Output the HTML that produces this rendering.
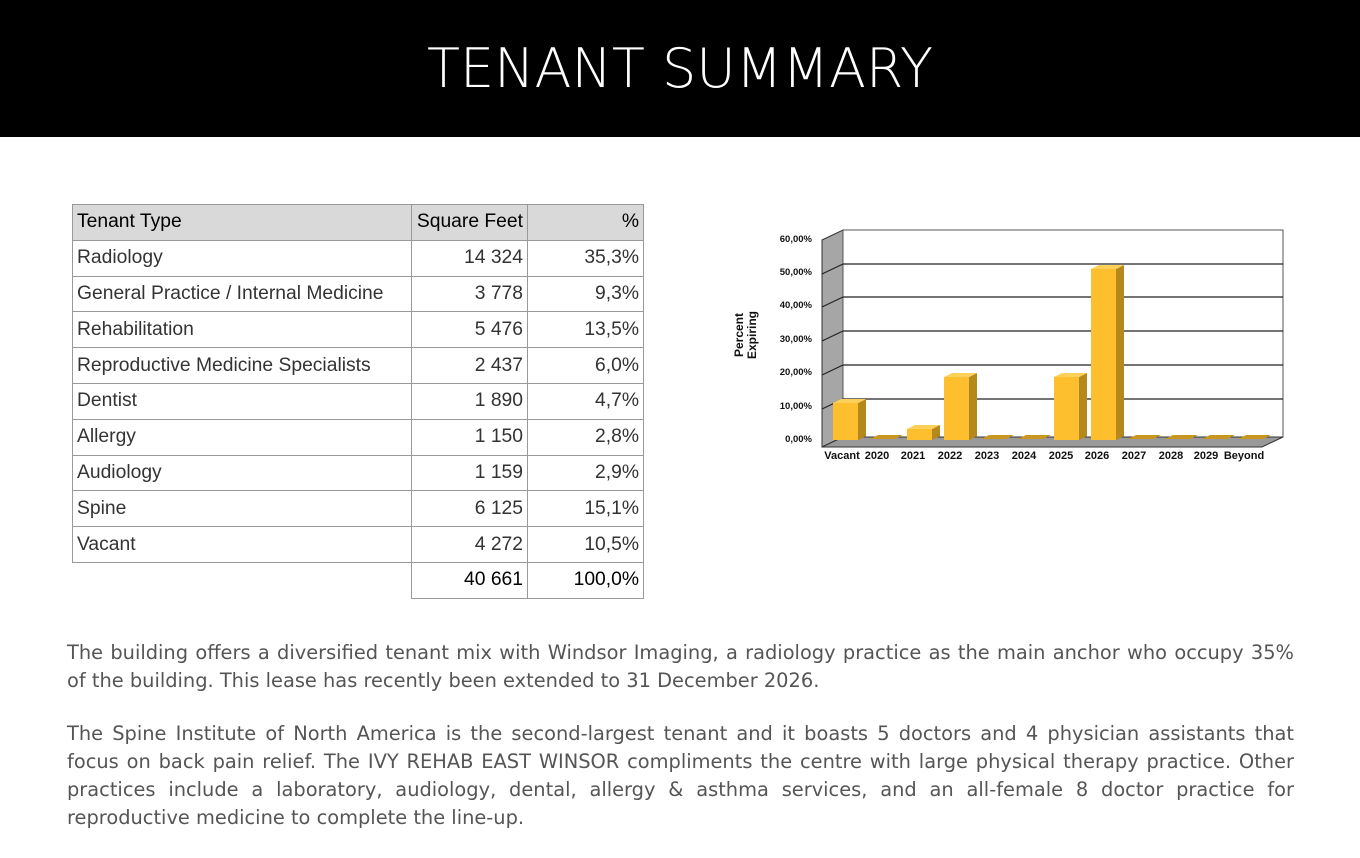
<!DOCTYPE html>
<html><head><meta charset="utf-8"><style>
body{margin:0;width:1360px;height:858px;background:#fff;position:relative;overflow:hidden;font-family:"Liberation Sans",sans-serif}
.hdr{position:absolute;left:0;top:0;width:1360px;height:137px;background:#000;color:#fff;font-size:54px;text-align:center;line-height:137px;letter-spacing:0px;font-family:"DejaVu Sans","Liberation Sans",sans-serif;font-weight:300}
table{position:absolute;left:72px;top:204px;border-collapse:collapse;font-size:19.3px;color:#333}
td{border:1px solid #999;height:35.8px;padding:0 4px;box-sizing:border-box}
tr.h td{background:#d9d9d9;color:#000}
.r{text-align:right}
.p{position:absolute;left:67px;width:1227px;font-family:"DejaVu Sans",sans-serif;font-size:19.4px;line-height:28px;color:#555;text-align:justify;text-align-last:left}
</style></head><body>
<div class="hdr">TENANT SUMMARY</div>
<table>
<colgroup><col style="width:339px"><col style="width:116px"><col style="width:116px"></colgroup>
<tr class="h"><td>Tenant Type</td><td class="r">Square Feet</td><td class="r">%</td></tr>
<tr><td>Radiology</td><td class="r">14 324</td><td class="r">35,3%</td></tr>
<tr><td>General Practice / Internal Medicine</td><td class="r">3 778</td><td class="r">9,3%</td></tr>
<tr><td>Rehabilitation</td><td class="r">5 476</td><td class="r">13,5%</td></tr>
<tr><td>Reproductive Medicine Specialists</td><td class="r">2 437</td><td class="r">6,0%</td></tr>
<tr><td>Dentist</td><td class="r">1 890</td><td class="r">4,7%</td></tr>
<tr><td>Allergy</td><td class="r">1 150</td><td class="r">2,8%</td></tr>
<tr><td>Audiology</td><td class="r">1 159</td><td class="r">2,9%</td></tr>
<tr><td>Spine</td><td class="r">6 125</td><td class="r">15,1%</td></tr>
<tr><td>Vacant</td><td class="r">4 272</td><td class="r">10,5%</td></tr>
<tr><td style="border:none;border-top:1px solid #999"></td><td class="r" style="color:#000">40 661</td><td class="r" style="color:#000">100,0%</td></tr>
</table>
<svg style="position:absolute;left:0;top:0" width="1360" height="858" font-family="Liberation Sans,sans-serif" font-weight="bold">
<polygon points="822,240 843,230 843,437 822,447" fill="#a6a6a6" stroke="#333" stroke-width="1"/>
<rect x="843" y="230" width="440" height="207" fill="#fff" stroke="#555"/>
<g stroke="#222" stroke-width="1.2">
<line x1="843" y1="264" x2="1283" y2="264"/><line x1="843" y1="297" x2="1283" y2="297"/>
<line x1="843" y1="331" x2="1283" y2="331"/><line x1="843" y1="365" x2="1283" y2="365"/>
<line x1="843" y1="399" x2="1283" y2="399"/>
<line x1="822" y1="274" x2="843" y2="264"/><line x1="822" y1="307" x2="843" y2="297"/>
<line x1="822" y1="341" x2="843" y2="331"/><line x1="822" y1="375" x2="843" y2="365"/>
<line x1="822" y1="409" x2="843" y2="399"/>
</g>
<polygon points="822,447 843,437 1283,437 1262,447" fill="#999" stroke="#333"/>
<g fill="#c9971f">
<polygon points="870,439 895,439 903,435 878,435"/><polygon points="981,439 1006,439 1014,435 989,435"/>
<polygon points="1018,439 1043,439 1051,435 1026,435"/><polygon points="1128,439 1153,439 1161,435 1136,435"/>
<polygon points="1165,439 1190,439 1198,435 1173,435"/><polygon points="1202,439 1227,439 1235,435 1210,435"/>
<polygon points="1238,439 1263,439 1271,435 1246,435"/>
</g>
<g fill="#fdbf2d">
<rect x="833" y="403" width="25" height="37"/><rect x="907" y="429" width="25" height="11"/>
<rect x="944" y="377" width="25" height="63"/><rect x="1054" y="377" width="25" height="63"/>
<rect x="1091" y="269" width="25" height="171"/>
</g>
<g fill="#b5881c">
<polygon points="858,403 866,399 866,436 858,440"/><polygon points="932,429 940,425 940,436 932,440"/>
<polygon points="969,377 977,373 977,436 969,440"/><polygon points="1079,377 1087,373 1087,436 1079,440"/>
<polygon points="1116,269 1124,265 1124,436 1116,440"/>
</g>
<g fill="#fdd05a">
<polygon points="833,403 858,403 866,399 841,399"/><polygon points="907,429 932,429 940,425 915,425"/>
<polygon points="944,377 969,377 977,373 952,373"/><polygon points="1054,377 1079,377 1087,373 1062,373"/>
<polygon points="1091,269 1116,269 1124,265 1099,265"/>
</g>
<g font-size="9.5" text-anchor="end" fill="#111">
<text x="812" y="242">60,00%</text><text x="812" y="275">50,00%</text><text x="812" y="308">40,00%</text>
<text x="812" y="342">30,00%</text><text x="812" y="375">20,00%</text><text x="812" y="409">10,00%</text>
<text x="812" y="442">0,00%</text>
</g>
<g font-size="11" text-anchor="middle" fill="#111">
<text x="842" y="459">Vacant</text><text x="877" y="459">2020</text><text x="913" y="459">2021</text>
<text x="950" y="459">2022</text><text x="987" y="459">2023</text><text x="1024" y="459">2024</text>
<text x="1061" y="459">2025</text><text x="1097" y="459">2026</text><text x="1134" y="459">2027</text>
<text x="1171" y="459">2028</text><text x="1206" y="459">2029</text><text x="1244" y="459">Beyond</text>
</g>
<g font-size="12" text-anchor="middle" fill="#111" transform="translate(743,335) rotate(-90)">
<text x="0" y="0">Percent</text><text x="0" y="13">Expiring</text>
</g>
</svg>
<div class="p" style="top:639px">The building offers a diversified tenant mix with Windsor Imaging, a radiology practice as the main anchor who occupy 35% of the building. This lease has recently been extended to 31 December 2026.</div>
<div class="p" style="top:720px">The Spine Institute of North America is the second-largest tenant and it boasts 5 doctors and 4 physician assistants that focus on back pain relief. The IVY REHAB EAST WINSOR compliments the centre with large physical therapy practice. Other practices include a laboratory, audiology, dental, allergy &amp; asthma services, and an all-female 8 doctor practice for reproductive medicine to complete the line-up.</div>
</body></html>
